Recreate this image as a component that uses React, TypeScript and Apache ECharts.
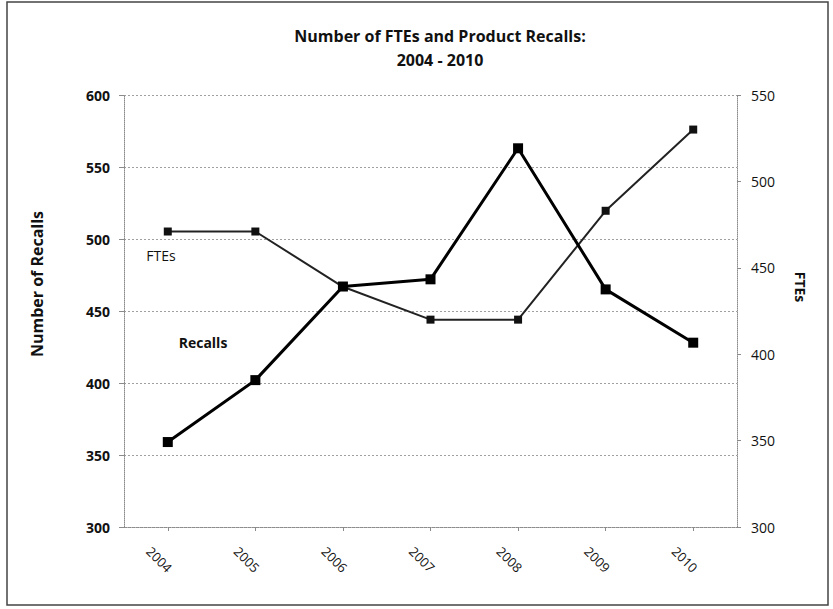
import React, { useEffect, useRef } from "react";
import * as echarts from "echarts";

const years = ["2004", "2005", "2006", "2007", "2008", "2009", "2010"];
const recalls = [359, 402, 467, 472, 563, 465, 428];
const ftes = [471, 471, 439, 420, 420, 483, 530];
const FONT = "'Open Sans', 'Noto Sans', sans-serif";

export default function App() {
  const ref = useRef<HTMLDivElement>(null);
  useEffect(() => {
    if (!ref.current) return;
    const chart = echarts.init(ref.current, undefined, { renderer: "svg" });
    const dotted = { color: "#8a8a8a", type: [1, 1] as any, width: 1 };
    chart.setOption({
      animation: false,
      backgroundColor: "#ffffff",
      textStyle: { fontFamily: FONT },
      title: {
        text: "Number of FTEs and Product Recalls:\n2004 - 2010",
        left: 435,
        textAlign: "center",
        top: 19,
        textStyle: { fontFamily: FONT, fontSize: 16, fontWeight: "bold", color: "#111", lineHeight: 24 },
      },
      grid: { left: 124, right: 96, top: 95, bottom: 82, containLabel: false },
      xAxis: {
        type: "category",
        data: years,
        boundaryGap: true,
        axisLine: { show: true, lineStyle: dotted },
        axisTick: { show: true, alignWithLabel: true, length: 4, lineStyle: { color: "#8a8a8a" } },
        axisLabel: {
          rotate: -45,
          align: "center",
          verticalAlign: "top",
          lineHeight: 24,
          margin: 24,
          fontSize: 13,
          color: "#111",
          fontFamily: FONT,
        },
        splitLine: { show: false },
      },
      yAxis: [
        {
          type: "value",
          min: 300,
          max: 600,
          interval: 50,
          axisLine: { show: true, lineStyle: dotted },
          axisTick: { show: true, length: 5, lineStyle: { color: "#8a8a8a" } },
          axisLabel: { margin: 14, fontSize: 14, fontWeight: "bold", color: "#111", fontFamily: FONT },
          splitLine: { show: true, lineStyle: { color: "#a0a0a0", type: [2, 2] as any, width: 1 } },
        },
        {
          type: "value",
          position: "right",
          min: 300,
          max: 550,
          interval: 50,
          axisLine: { show: true, lineStyle: dotted },
          axisTick: { show: true, length: 4, lineStyle: { color: "#8a8a8a" } },
          axisLabel: { margin: 14, fontSize: 14, color: "#111", fontFamily: FONT },
          splitLine: { show: false },
        },
      ],
      series: [
        {
          name: "FTEs",
          type: "line",
          yAxisIndex: 1,
          data: ftes,
          symbol: "rect",
          symbolSize: 8,
          lineStyle: { color: "#222", width: 2 },
          itemStyle: { color: "#111" },
          z: 2,
        },
        {
          name: "Recalls",
          type: "line",
          yAxisIndex: 0,
          data: recalls,
          symbol: "rect",
          symbolSize: 10,
          lineStyle: { color: "#000", width: 3 },
          itemStyle: { color: "#000" },
          z: 3,
        },
      ],
      graphic: [
        {
          type: "rect",
          shape: { x: 7, y: 2, width: 821, height: 603 },
          style: { fill: "none", stroke: "#444", lineWidth: 1.5 },
          silent: true,
        },
        {
          type: "text",
          x: 37,
          y: 284,
          rotation: Math.PI / 2,
          style: { text: "Number of Recalls", fontFamily: FONT, fontSize: 16, fontWeight: "bold", fill: "#111", align: "center", verticalAlign: "middle" },
        },
        {
          type: "text",
          x: 800,
          y: 287,
          rotation: -Math.PI / 2,
          style: { text: "FTEs", fontFamily: FONT, fontSize: 14, fontWeight: "bold", fill: "#111", align: "center", verticalAlign: "middle" },
        },
        {
          type: "text",
          x: 161,
          y: 255,
          style: { text: "FTEs", fontFamily: FONT, fontSize: 14, fill: "#111", align: "center", verticalAlign: "middle" },
        },
        {
          type: "text",
          x: 203,
          y: 342,
          style: { text: "Recalls", fontFamily: FONT, fontSize: 14, fontWeight: "bold", fill: "#111", align: "center", verticalAlign: "middle" },
        },
      ],
    });
    return () => chart.dispose();
  }, []);
  return <div ref={ref} style={{ position: "fixed", left: 0, top: 0, width: 833, height: 609 }} />;
}
